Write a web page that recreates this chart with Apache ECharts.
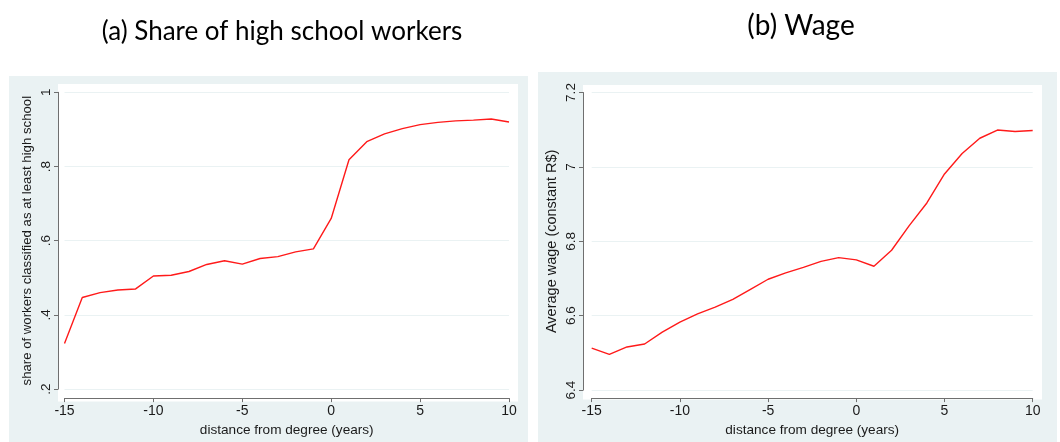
<!DOCTYPE html>
<html>
<head>
	<meta charset="utf-8" />
	<title>Share of high school workers and wage</title>
	<script src="https://cdn.jsdelivr.net/npm/echarts@6/dist/echarts.min.js"></script>
	<style>
		html, body { margin: 0; padding: 0; background: #fff; }
	</style>
</head>
<body>
	<div id="main" style="width: 1060px;height: 442px;"></div>

	<script type="text/javascript">
		// distance from degree (years)
		var years = [-15,-14,-13,-12,-11,-10,-9,-8,-7,-6,-5,-4,-3,-2,-1,0,1,2,3,4,5,6,7,8,9,10];

		// (a) share of workers classified as at least high school
		var shareHS = [0.323,0.447,0.460,0.467,0.470,0.505,0.507,0.517,0.536,0.546,0.537,0.552,0.557,0.570,0.578,
			0.660,0.818,0.867,0.888,0.902,0.913,0.919,0.923,0.925,0.928,0.920];

		// (b) average wage (constant R$)
		var avgWage = [6.513,6.496,6.516,6.524,6.556,6.583,6.605,6.623,6.644,6.671,6.698,6.715,6.730,6.746,6.756,
			6.750,6.733,6.776,6.842,6.903,6.981,7.036,7.077,7.099,7.095,7.098];

		var xTicks = [-15,-10,-5,0,5,10];
		var yTicksA = [0.2,0.4,0.6,0.8,1];
		var yTicksB = [6.4,6.6,6.8,7,7.2];

		function pairs(xs, ys) {
			var out = [];
			for (var i = 0; i < xs.length; i++) {
				out.push([xs[i], ys[i]]);
			}
			return out;
		}

		var myChart = echarts.init(document.getElementById("main"), null, {renderer: 'canvas'});

		var axisFont = 'Liberation Sans, Arial, sans-serif';
		var stataBg = '#eaf2f3';
		var gridCol = '#eaf2f3';
		var axisCol = '#6f6f6f';
		var txtCol = '#1a1a1a';

		function xAxisOf(idx, offset) {
			return {
				type: 'value',
				gridIndex: idx,
				min: xTicks[0],
				max: xTicks[xTicks.length - 1],
				interval: 5,
				offset: offset,
				name: 'distance from degree (years)',
				nameLocation: 'middle',
				nameGap: 20,
				nameTextStyle: {fontFamily: axisFont, fontSize: 13.6, color: txtCol},
				axisLine: {show: true, lineStyle: {color: axisCol, width: 1}},
				axisTick: {show: true, length: 4, lineStyle: {color: axisCol}},
				axisLabel: {fontFamily: axisFont, fontSize: 14, color: txtCol, margin: 6},
				splitLine: {show: false}
			};
		}

		function yAxisOf(idx, ticks, name, fmt, offset, gap, nameSize) {
			return {
				type: 'value',
				gridIndex: idx,
				min: ticks[0],
				max: ticks[ticks.length - 1],
				interval: 0.2,
				offset: offset,
				name: name,
				nameLocation: 'middle',
				nameGap: gap,
				nameTextStyle: {fontFamily: axisFont, fontSize: nameSize, color: txtCol},
				axisLine: {show: true, onZero: false, lineStyle: {color: axisCol, width: 1}},
				axisTick: {show: true, length: 4, lineStyle: {color: axisCol}},
				axisLabel: {fontFamily: axisFont, fontSize: 13.5, color: txtCol, rotate: 90, margin: 5, formatter: fmt},
				splitLine: {show: true, lineStyle: {color: gridCol, width: 1}}
			};
		}

		function fmtA(v) {
			var s = String(Math.round(v * 10) / 10);
			return s.replace(/^0\./, '.');
		}
		function fmtB(v) {
			return String(Math.round(v * 10) / 10);
		}

		var option = {
			backgroundColor: '#ffffff',
			animation: false,
			title: [
				{text: '(a) Share of high school workers', left: 277, top: 14, textAlign: 'center',
					textStyle: {fontFamily: 'Lato, Noto Sans, sans-serif', fontWeight: 'normal', fontSize: 26, color: '#000'}},
				{text: '(b) Wage', left: 796, top: 7, textAlign: 'center',
					textStyle: {fontFamily: 'Lato, Noto Sans, sans-serif', fontWeight: 'normal', fontSize: 28, color: '#000'}}
			],
			graphic: [
				// panel backgrounds and plot regions (Stata s2color look)
				{type: 'rect', z: -10, shape: {x: 9, y: 76, width: 519, height: 366}, style: {fill: stataBg}},
				{type: 'rect', z: -9, shape: {x: 58, y: 84, width: 460, height: 317.5}, style: {fill: '#fff'}},
				{type: 'rect', z: -10, shape: {x: 538, y: 72, width: 519, height: 370}, style: {fill: stataBg}},
				{type: 'rect', z: -9, shape: {x: 583, y: 85, width: 459, height: 314.5}, style: {fill: '#fff'}}
			],
			grid: [
				{left: 64.5, top: 92.3, width: 444.5, height: 300.2},
				{left: 591.7, top: 92.5, width: 441, height: 299}
			],
			xAxis: [
				xAxisOf(0, 9),
				xAxisOf(1, 8)
			],
			yAxis: [
				yAxisOf(0, yTicksA, 'share of workers classified as at least high school', fmtA, 6.5, 24, 13.2),
				yAxisOf(1, yTicksB, 'Average wage (constant R$)', fmtB, 8.7, 24, 14.5)
			],
			series: [
				{
					name: 'share high school',
					type: 'line',
					xAxisIndex: 0,
					yAxisIndex: 0,
					data: pairs(years, shareHS),
					showSymbol: false,
					lineStyle: {color: '#ff1a1a', width: 1.4}
				},
				{
					name: 'average wage',
					type: 'line',
					xAxisIndex: 1,
					yAxisIndex: 1,
					data: pairs(years, avgWage),
					showSymbol: false,
					lineStyle: {color: '#ff1a1a', width: 1.4}
				}
			]
		};

		myChart.setOption(option);
	</script>
</body>
</html>
